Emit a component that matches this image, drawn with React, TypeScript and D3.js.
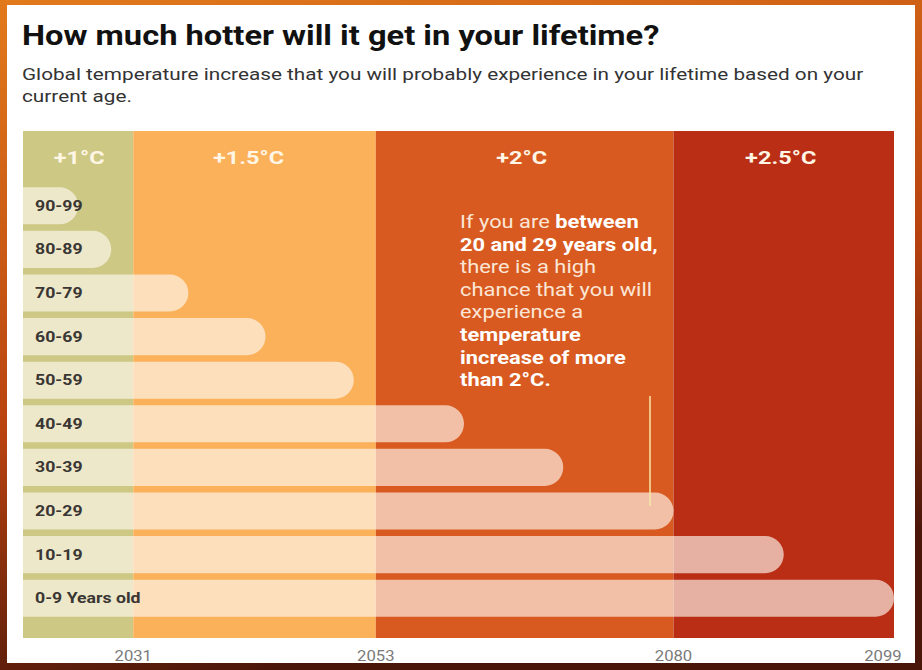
import React from 'react';
import * as d3 from 'd3';

// age groups, top to bottom, and the year each lifetime reaches
const ageGroups = ['90-99', '80-89', '70-79', '60-69', '50-59', '40-49', '30-39', '20-29', '10-19', '0-9 Years old'];
const lifetimeEnd = [2026, 2029, 2036, 2043, 2051, 2061, 2070, 2080, 2090, 2100];

// warming bands
const bandLabels = ['+1°C', '+1.5°C', '+2°C', '+2.5°C'];
const bandFrom = [2021, 2031, 2053, 2080];
const bandTo = [2031, 2053, 2080, 2100];
const bandColors = ['#cdc884', '#fbb05a', '#d85a20', '#b92e14'];

const tickYears = [2031, 2053, 2080, 2099];

const W = 922;
const H = 670;
const left = 23;
const right = 894;
const top = 131;
const bottom = 638;

const font = 'Roboto, "Noto Sans", sans-serif';
// the source picture is a bit wider than tall, so text is stretched sideways
const SX = 1.22;

const noteLines: [string, boolean][][] = [
  [['If you are ', false], ['between', true]],
  [['20 and 29 years old,', true]],
  [['there is a high', false]],
  [['chance that you will', false]],
  [['experience a', false]],
  [['temperature', true]],
  [['increase of more', true]],
  [['than 2°C.', true]],
];

const at = (x: number, y: number, sx = SX) => `translate(${x},${y}) scale(${sx},1)`;
const headShift = [1, -6, -3, -3];

export default function App() {
  const x = d3.scaleLinear().domain([2021, 2100]).range([left, right]);
  const y = d3.scaleBand<string>().domain(ageGroups).range([184, 620]).paddingInner(0.15).paddingOuter(0.075);
  const bh = y.bandwidth();

  const barPath = (end: number, y0: number) => {
    const r = bh / 2;
    const p = d3.path();
    p.moveTo(left, y0);
    p.lineTo(end - r, y0);
    p.arc(end - r, y0 + r, r, -Math.PI / 2, Math.PI / 2);
    p.lineTo(left, y0 + bh);
    p.closePath();
    return p.toString();
  };

  return (
    <div>
      <style>{`body{margin:0}`}</style>
      <svg width={W} height={H} style={{ display: 'block' }}>
        <defs>
          <linearGradient id="bg" x1="0" y1="0" x2="0.3" y2="1">
            <stop offset="0" stopColor="#e27a1c" />
            <stop offset="0.6" stopColor="#b8420f" />
            <stop offset="1" stopColor="#4a160a" />
          </linearGradient>
        </defs>
        <rect width={W} height={H} fill="url(#bg)" />
        <rect x={7} y={5} width={908} height={658} fill="#fff" />

        <text transform={at(22, 45, 1.21)} fontFamily={font} fontWeight={700} fontSize={27} fill="#111">
          How much hotter will it get in your lifetime?
        </text>
        <text transform={at(22, 0)} fontFamily={font} fontSize={17} fill="#333">
          <tspan x={0} y={80}>Global temperature increase that you will probably experience in your lifetime based on your</tspan>
          <tspan x={0} y={102}>current age.</tspan>
        </text>

        {bandLabels.map((b, i) => (
          <g key={b}>
            <rect x={x(bandFrom[i])} y={top} width={x(bandTo[i]) - x(bandFrom[i])} height={bottom - top} fill={bandColors[i]} />
            <text
              transform={at((x(bandFrom[i]) + x(bandTo[i])) / 2 + headShift[i], 164, 1.24)}
              textAnchor="middle"
              fontFamily={font}
              fontWeight={700}
              fontSize={19}
              fill="#fff6e6"
            >
              {b}
            </text>
          </g>
        ))}

        {ageGroups.map((a, i) => (
          <g key={a}>
            <path d={barPath(x(lifetimeEnd[i]), y(a)!)} fill="#fffaf2" fillOpacity={0.64} />
            <text transform={at(35, y(a)! + bh / 2)} dy="0.35em" fontFamily={font} fontWeight={700} fontSize={14.5} fill="#3a3633">
              {a}
            </text>
          </g>
        ))}

        <line x1={650} x2={650} y1={396} y2={506} stroke="#f6e7a8" strokeWidth={1.5} />
        <text transform={at(460, 0, 1.25)} fontFamily={font} fontSize={17.5} fill="#fff3e6">
          {noteLines.map((ln, i) => (
            <tspan key={i} x={0} y={228 + i * 22.6}>
              {ln.map(([t, b], j) => (
                <tspan key={j} fontWeight={b ? 700 : 400} fill={b ? '#fff' : '#fbe6d6'}>
                  {t}
                </tspan>
              ))}
            </tspan>
          ))}
        </text>

        {tickYears.map(t => (
          <text key={t} transform={at(x(t), 661, 1.15)} textAnchor="middle" fontFamily={font} fontSize={14.5} fill="#7a7a7a">
            {t}
          </text>
        ))}
      </svg>
    </div>
  );
}
